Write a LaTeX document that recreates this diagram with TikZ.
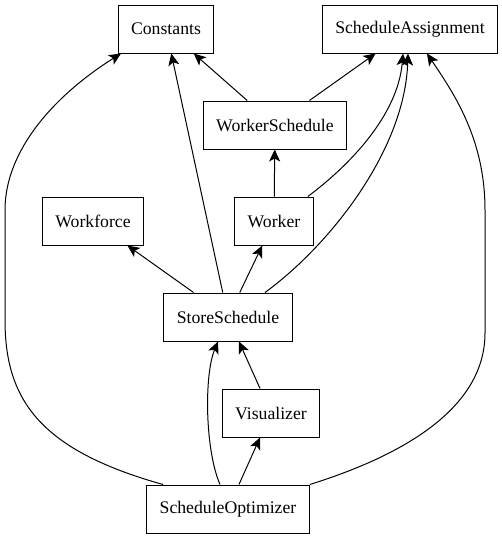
\documentclass[tikz,border=0pt]{standalone}
\usepackage{fontspec}
\setmainfont{Liberation Serif}
\usetikzlibrary{arrows.meta}

\begin{document}
\begin{tikzpicture}
[
  x=1pt, y=-1pt,
  box/.style={draw, line width=1pt, inner xsep=13pt, minimum height=48pt,
    font=\fontsize{17.7}{20}\selectfont},
  dep/.style={line width=1pt, -{Stealth[length=12pt,width=11pt,inset=3pt]}}
]
  \useasboundingbox (0,0) rectangle (502,539);

  \node[box] (con) at (166,29) {Constants};
  \node[box] (sa) at (410,29) {ScheduleAssignment};
  \node[box] (ws) at (275,125) {WorkerSchedule};
  \node[box] (wf) at (93,221) {Workforce};
  \node[box] (wk) at (274,221) {Worker};
  \node[box] (ss) at (228,317) {StoreSchedule};
  \node[box] (vis) at (271,413) {Visualizer};
  \node[box] (so) at (228,509) {ScheduleOptimizer};

  \draw[dep] (ws) -- (con);
  \draw[dep] (ws) -- (sa);
  \draw[dep] (wk) -- (ws);
  \draw[dep] ([xshift=-6pt]wk.north east)
    .. controls (350,165) and (398,115) .. ([xshift=-7pt]sa.south);
  \draw[dep] (ss) -- (con);
  \draw[dep] (ss) -- (wf);
  \draw[dep] (ss) -- (wk);
  \draw[dep] ([xshift=37pt]ss.north)
    .. controls (330,245) and (405,150) .. ([xshift=-2pt]sa.south);
  \draw[dep] (vis) -- (ss);
  \draw[dep] ([xshift=-8pt]so.north)
    .. controls (205,450) and (204,375) .. ([xshift=-10pt]ss.south);
  \draw[dep] (so) -- (vis);
  \draw[dep] ([xshift=-65pt]so.north)
    .. controls (40,450) and (5,400) .. (5,320) -- (5,210)
    .. controls (5,150) and (55,95) .. ([xshift=-45pt]con.south);
  \draw[dep] (so.north east)
    .. controls (420,450) and (485,400) .. (485,333) -- (485,210)
    .. controls (485,140) and (455,95) .. ([xshift=17pt]sa.south);
\end{tikzpicture}
\end{document}
